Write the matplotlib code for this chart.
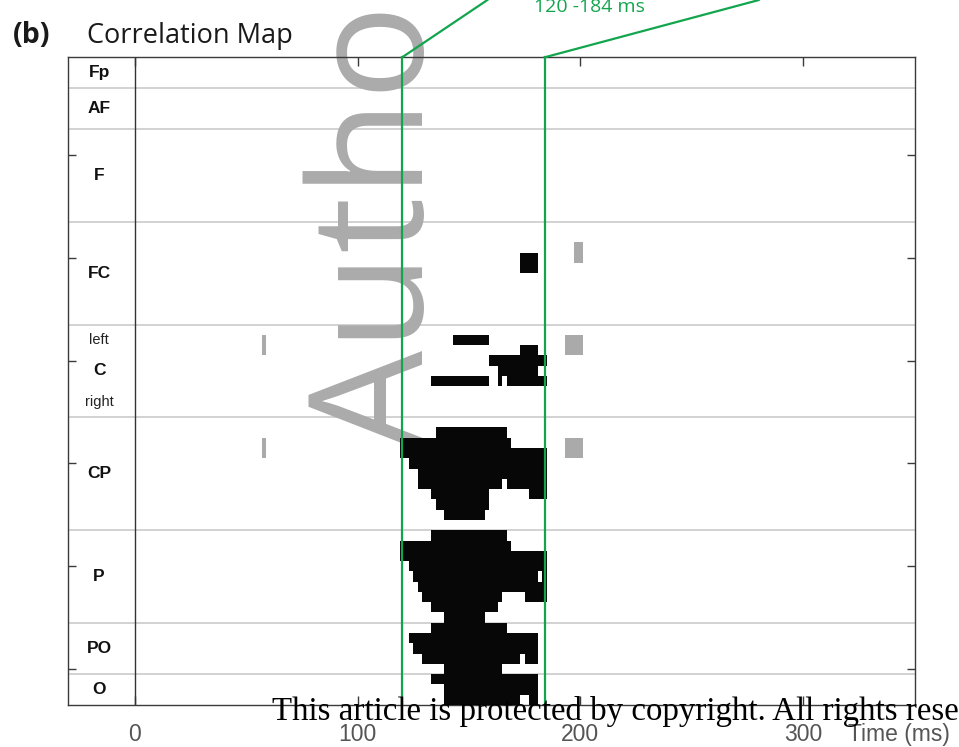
import matplotlib
matplotlib.use("Agg")
import matplotlib.pyplot as plt
import matplotlib.transforms as mtransforms

# Electrode groups (top to bottom) and number of channels in each
groups = ['Fp', 'AF', 'F', 'FC', 'C', 'CP', 'P', 'PO', 'O']
group_sizes = [3, 4, 9, 10, 9, 11, 9, 5, 3]

# Significant time spans (ms) per channel, strong correlation
sig_black = {
    20: [(173, 181)],
    21: [(173, 181)],
    28: [(143, 159)],
    29: [(173, 181)],
    30: [(159, 185)],
    31: [(163, 181)],
    32: [(133, 159), (163, 165), (167, 185)],
    37: [(135, 167)],
    38: [(119, 169)],
    39: [(119, 185)],
    40: [(123, 185)],
    41: [(127, 185)],
    42: [(127, 165), (167, 185)],
    43: [(133, 159), (177, 185)],
    44: [(135, 159)],
    45: [(139, 157)],
    47: [(133, 167)],
    48: [(119, 169)],
    49: [(119, 185)],
    50: [(123, 185)],
    51: [(125, 181), (183, 185)],
    52: [(127, 185)],
    53: [(129, 165), (175, 185)],
    54: [(133, 163)],
    55: [(139, 157)],
    56: [(133, 167)],
    57: [(123, 181)],
    58: [(125, 181)],
    59: [(129, 173), (175, 181)],
    60: [(139, 165)],
    61: [(133, 181)],
    62: [(139, 181)],
    63: [(139, 173), (177, 181)],
}

# weaker correlation
sig_gray = {
    19: [(197, 201)],
    20: [(197, 201)],
    28: [(57, 59), (193, 201)],
    29: [(57, 59), (193, 201)],
    38: [(57, 59), (193, 201)],
    39: [(57, 59), (193, 201)],
}

window = (120, 184)
xticks = [0, 100, 200, 300]

green = '#12a54e'
n_chan = sum(group_sizes)

fig = plt.figure(figsize=(9.59, 7.47), dpi=100)
ax = fig.add_axes([68 / 959, 42 / 747, 846.5 / 959, 647.7 / 747])
ax.set_xlim(-30, 350)
ax.set_ylim(n_chan + 0.5, 0.5)

# group separators
bounds = []
acc = 0
for s in group_sizes:
    acc += s
    bounds.append(acc)
for b in bounds[:-1]:
    ax.axhline(b + 0.5, color='#cfcfcf', lw=1.3, zorder=1)
ax.axvline(0, color='#333333', lw=1.0, zorder=2)

# significance cells
for ch, spans in sig_gray.items():
    ax.broken_barh([(a, b - a) for a, b in spans], (ch - 0.5, 1),
                   facecolor='#aaaaaa', edgecolor='none', zorder=3)
for ch, spans in sig_black.items():
    ax.broken_barh([(a, b - a) for a, b in spans], (ch - 0.5, 1),
                   facecolor='#070707', edgecolor='none', zorder=3)

# group labels
start = 0
for name, s in zip(groups, group_sizes):
    center = start + (s + 1) / 2
    ax.text(-16, center, name, ha='center', va='center', fontsize=12.5,
            fontweight='bold', family='Liberation Sans', color='#111111')
    if name == 'C':
        ax.text(-16, start + 2, 'left', ha='center', va='center',
                fontsize=10.5, family='Liberation Sans', color='#222222')
        ax.text(-16, start + 8, 'right', ha='center', va='center',
                fontsize=10.5, family='Liberation Sans', color='#222222')
    start += s

# window markers and lead lines up to the panel above
top_y = 0.5 - 57.2 / 10.28
for t, x_end in zip(window, (158.2, 280.0)):
    ax.plot([t, t], [n_chan + 0.5, 0.5], color=green, lw=1.6, zorder=5,
            clip_on=False)
    ax.plot([t, x_end], [0.5, top_y], color=green, lw=1.6, zorder=5,
            clip_on=False)
ax.text(204, -3.9, f'{window[0]} -{window[1]} ms', ha='center',
        va='baseline', fontsize=14, color=green, family='Open Sans',
        clip_on=False)

# axes styling
for sp in ax.spines.values():
    sp.set_color('#3a3a3a')
    sp.set_linewidth(1.0)
ax.set_xticks(xticks)
ax.set_xticklabels([str(v) for v in xticks], fontsize=16.5,
                   family='Liberation Sans', color='#555555')
ax.set_yticks(range(10, n_chan + 1, 10))
ax.set_yticklabels([])
ax.tick_params(axis='x', direction='in', top=True, bottom=True, length=6.5,
               width=1, color='#3a3a3a', pad=13)
ax.tick_params(axis='y', direction='in', left=True, right=True, length=6,
               width=1, color='#3a3a3a')

# axis title sits on the tick-label row, right of the last tick
trans = mtransforms.blended_transform_factory(ax.transData, ax.transAxes)
trans = trans + mtransforms.ScaledTranslation(0, -13 / 72, fig.dpi_scale_trans)
ax.text(320, 0.0, 'Time (ms)', transform=trans, ha='left', va='top',
        fontsize=16.5, family='Liberation Sans', color='#555555',
        clip_on=False)

# title
fig.text(13 / 959, 1 - 43 / 747, '(b)', fontsize=20.5, fontweight='bold',
         family='Open Sans', va='baseline', color='#1a1a1a')
fig.text(87 / 959, 1 - 43 / 747, 'Correlation Map', fontsize=19.5,
         family='Open Sans', va='baseline', color='#1a1a1a')

# manuscript watermarks
ax.text(423 / 959, 1 - 450 / 747, 'Author Manuscript', transform=fig.transFigure,
        rotation=90, rotation_mode='anchor', ha='left', va='baseline',
        fontsize=114, family='Open Sans', color='#ababab', zorder=2.5,
        clip_on=False)
fig.text(272 / 959, 27 / 747,
         'This article is protected by copyright. All rights reserved.',
         fontsize=23.7, family='Liberation Serif', va='baseline', color='black')

fig.savefig('out.png', dpi=100)
